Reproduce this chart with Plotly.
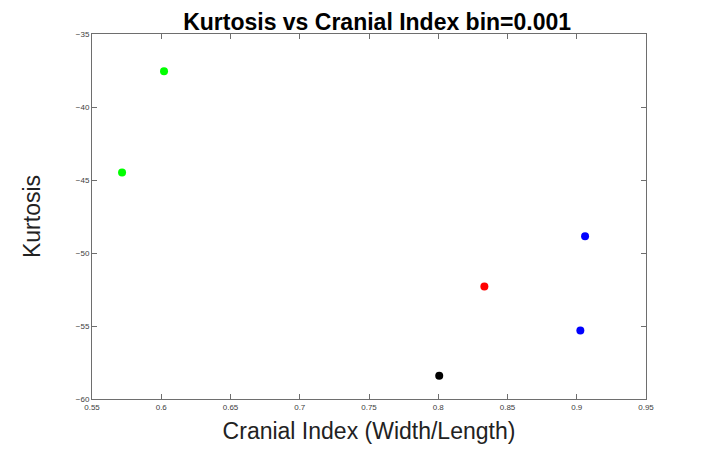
import plotly.graph_objects as go

green_x = [0.5717, 0.602]
green_y = [-44.48, -37.55]
black_x = [0.8007]
black_y = [-58.4]
red_x = [0.8333]
red_y = [-52.3]
blue_x = [0.906, 0.9026]
blue_y = [-48.85, -55.3]

fig = go.Figure()
for xs, ys, c in [(green_x, green_y, "#00ff00"), (black_x, black_y, "#000000"),
                  (red_x, red_y, "#ff0000"), (blue_x, blue_y, "#0000ff")]:
    fig.add_trace(go.Scatter(x=xs, y=ys, mode="markers",
                             marker=dict(color=c, size=8, symbol="circle"),
                             showlegend=False))

axis_common = dict(showgrid=False, zeroline=False, showline=True, linecolor="#6e6e6e",
                   linewidth=1, mirror="ticks", ticks="inside", ticklen=5, automargin=False,
                   tickcolor="#6e6e6e", tickfont=dict(size=8, color="#404040", family="Arial"))
fig.update_layout(
    width=714, height=449,
    paper_bgcolor="white", plot_bgcolor="white",
    margin=dict(l=84, r=76, t=26, b=58),
    title=dict(text="<b>Kurtosis vs Cranial Index bin=0.001</b>", x=0.517, xanchor="center",
               y=0.97, yanchor="middle", font=dict(size=23, family="Arial", color="black")),
    xaxis=dict(range=[0.55, 0.95], tickvals=[0.55, 0.6, 0.65, 0.7, 0.75, 0.8, 0.85, 0.9, 0.95],
               ticktext=["0.55", "0.6", "0.65", "0.7", "0.75", "0.8", "0.85", "0.9", "0.95"],
               title=dict(text="Cranial Index (Width/Length)", standoff=12,
                          font=dict(size=23, family="Arial", color="#222")),
               **axis_common),
    yaxis=dict(range=[-60, -35], tickvals=[-60, -55, -50, -45, -40, -35],
               title=dict(text="Kurtosis", standoff=28,
                          font=dict(size=23, family="Arial", color="#222")),
               **axis_common),
)
fig.write_html("out.html")
